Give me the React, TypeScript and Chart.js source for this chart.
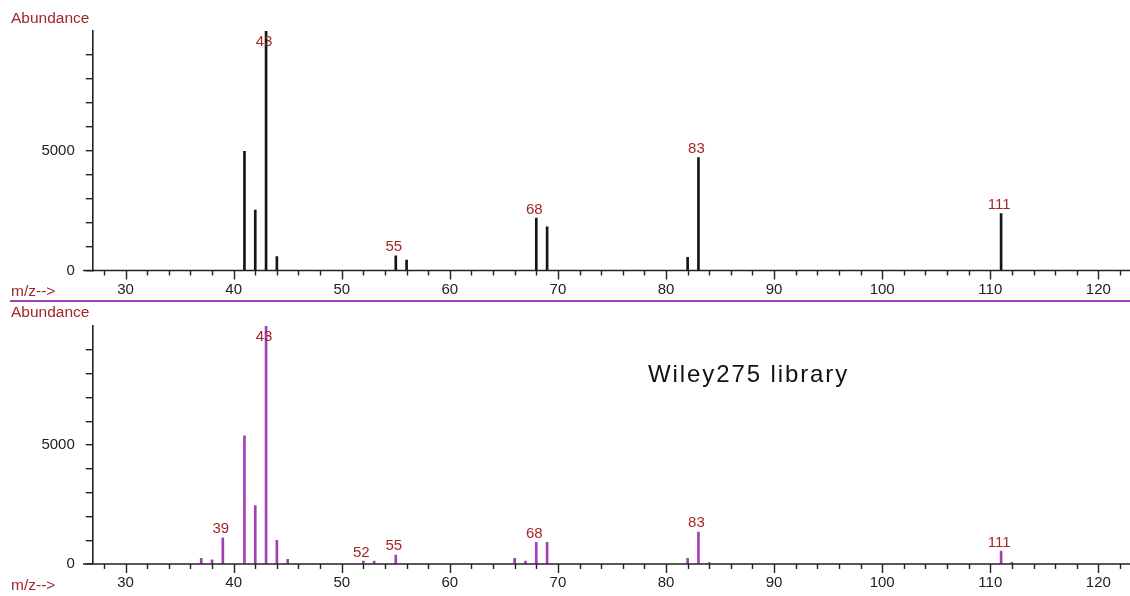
import React, { useEffect, useRef } from 'react';
import { Chart, registerables } from 'chart.js';

Chart.register(...registerables);

// ---- data ----
const SAMPLE_MZ = [41, 42, 43, 44, 55, 56, 68, 69, 82, 83, 111];
const SAMPLE_ABUNDANCE = [4980, 2520, 10000, 580, 610, 430, 2190, 1820, 555, 4710, 2375];
const SAMPLE_PEAK_LABELS = [43, 55, 68, 83, 111];

const LIBRARY_MZ = [37, 38, 39, 41, 42, 43, 44, 45, 52, 53, 55, 66, 67, 68, 69, 82, 83, 84, 111, 112];
const LIBRARY_ABUNDANCE = [240, 180, 1100, 5390, 2450, 10000, 995, 195, 125, 125, 380, 240, 125, 910, 910, 240, 1345, 55, 545, 70];
const LIBRARY_PEAK_LABELS = [39, 43, 52, 55, 68, 83, 111];

const X_TICKS = [28, 30, 32, 34, 36, 38, 40, 42, 44, 46, 48, 50, 52, 54, 56, 58, 60, 62, 64, 66, 68, 70, 72, 74, 76, 78, 80, 82, 84, 86, 88, 90, 92, 94, 96, 98, 100, 102, 104, 106, 108, 110, 112, 114, 116, 118, 120, 122];
const X_TICK_LABELS = [30, 40, 50, 60, 70, 80, 90, 100, 110, 120];
const Y_TICKS = [0, 1000, 2000, 3000, 4000, 5000, 6000, 7000, 8000, 9000];
const Y_TICK_LABELS = [0, 5000];

const X_MIN = 26.97;
const X_MAX = 122.87;
const Y_MAX = 10000;

const FONT = "'Liberation Sans', Arial, sans-serif";
const LABEL_RED = '#a3262a';
const AXIS_COLOR = '#222222';
const PURPLE = '#a63db8';

type PanelProps = {
  mz: number[];
  abundance: number[];
  peakLabels: number[];
  barColor: string;
  height: number;
  padTop: number;
  xAxisHeight: number;
  top: number;
  isLibrary: boolean;
};

function Panel(props: PanelProps) {
  const ref = useRef<HTMLCanvasElement | null>(null);
  useEffect(() => {
    const canvas = ref.current;
    if (!canvas) return;
    const { mz, abundance, peakLabels, barColor, padTop, xAxisHeight, isLibrary } = props;

    const decor = {
      id: 'decor',
      afterDatasetsDraw(chart: any) {
        const ctx = chart.ctx as CanvasRenderingContext2D;
        const area = chart.chartArea;
        const xs = chart.scales.x;
        const ys = chart.scales.y;
        ctx.save();
        // baseline
        ctx.strokeStyle = AXIS_COLOR;
        ctx.lineWidth = 1.6;
        ctx.beginPath();
        ctx.moveTo(83, area.bottom);
        ctx.lineTo(chart.width, area.bottom);
        ctx.stroke();
        // x tick marks
        ctx.lineWidth = 1.4;
        for (const v of X_TICKS) {
          const px = Math.round(xs.getPixelForValue(v)) + 0.5;
          const len = v % 10 === 0 ? 9 : 5;
          ctx.beginPath();
          ctx.moveTo(px, area.bottom);
          ctx.lineTo(px, area.bottom + len);
          ctx.stroke();
        }
        // peak labels
        ctx.fillStyle = LABEL_RED;
        ctx.font = `15px ${FONT}`;
        ctx.textAlign = 'center';
        ctx.textBaseline = 'alphabetic';
        for (const m of peakLabels) {
          const i = mz.indexOf(m);
          if (i < 0) continue;
          const px = xs.getPixelForValue(m);
          const py = ys.getPixelForValue(abundance[i]);
          const y = Math.max(py - 4.5, area.top + 14.5);
          ctx.fillText(String(m), px - 2, y);
        }
        // titles
        ctx.textAlign = 'left';
        ctx.font = `15.5px ${FONT}`;
        ctx.fillStyle = LABEL_RED;
        ctx.fillText('Abundance', 11, area.top - (isLibrary ? 9 : 8));
        ctx.fillText('m/z-->', 11, area.bottom + 25.5);
        if (isLibrary) {
          ctx.strokeStyle = PURPLE;
          ctx.lineWidth = 2;
          ctx.beginPath();
          ctx.moveTo(10, 3);
          ctx.lineTo(chart.width, 3);
          ctx.stroke();
          ctx.fillStyle = '#111111';
          ctx.font = `24px ${FONT}`;
          (ctx as any).letterSpacing = '1.9px';
          ctx.fillText('Wiley275 library', 648, 84.3);
        }
        ctx.restore();
      },
    };

    const chart = new Chart(canvas, {
      type: 'bar',
      data: {
        datasets: [
          {
            data: mz.map((m, i) => ({ x: m, y: abundance[i] })),
            backgroundColor: barColor,
            borderWidth: 0,
            barThickness: 2,
          },
        ],
      },
      options: {
        animation: false,
        responsive: false,
        maintainAspectRatio: false,
        layout: { padding: { top: padTop, left: 0, right: 0, bottom: 0 } },
        plugins: { legend: { display: false }, tooltip: { enabled: false } },
        scales: {
          x: {
            type: 'linear',
            min: X_MIN,
            max: X_MAX,
            offset: false,
            grid: { display: false, drawTicks: false },
            border: { display: false },
            afterBuildTicks: (s: any) => {
              s.ticks = X_TICKS.map((v) => ({ value: v }));
            },
            afterFit: (s: any) => {
              s.height = xAxisHeight;
            },
            ticks: {
              autoSkip: false,
              maxRotation: 0,
              minRotation: 0,
              padding: 10,
              color: AXIS_COLOR,
              font: { family: FONT, size: 15 },
              callback: (v: any) => (X_TICK_LABELS.includes(Number(v)) ? String(v) : ''),
            },
          },
          y: {
            type: 'linear',
            min: 0,
            max: Y_MAX,
            grid: {
              display: true,
              drawOnChartArea: false,
              drawTicks: true,
              tickLength: 7,
              color: AXIS_COLOR,
              lineWidth: 1.4,
            },
            border: { display: true, color: AXIS_COLOR, width: 1.6 },
            afterBuildTicks: (s: any) => {
              s.ticks = Y_TICKS.map((v) => ({ value: v }));
            },
            afterFit: (s: any) => {
              s.width = 92.8;
            },
            ticks: {
              autoSkip: false,
              padding: 11,
              color: AXIS_COLOR,
              font: { family: FONT, size: 15 },
              callback: (v: any) => (Y_TICK_LABELS.includes(Number(v)) ? String(v) : ''),
            },
          },
        },
      } as any,
      plugins: [decor],
    });
    return () => chart.destroy();
  }, []);

  return (
    <canvas
      ref={ref}
      width={1130}
      height={props.height}
      style={{ position: 'absolute', left: 0, top: props.top, width: 1130, height: props.height, display: 'block' }}
    />
  );
}

export default function App() {
  return (
    <div style={{ position: 'fixed', left: 0, top: 0, width: 1130, height: 596, background: '#ffffff', overflow: 'hidden' }}>
      <Panel
        mz={SAMPLE_MZ}
        abundance={SAMPLE_ABUNDANCE}
        peakLabels={SAMPLE_PEAK_LABELS}
        barColor="#151515"
        height={298}
        top={0}
        padTop={31}
        xAxisHeight={27.5}
        isLibrary={false}
      />
      <Panel
        mz={LIBRARY_MZ}
        abundance={LIBRARY_ABUNDANCE}
        peakLabels={LIBRARY_PEAK_LABELS}
        barColor={PURPLE}
        height={298}
        top={298}
        padTop={28}
        xAxisHeight={32}
        isLibrary={true}
      />
    </div>
  );
}
